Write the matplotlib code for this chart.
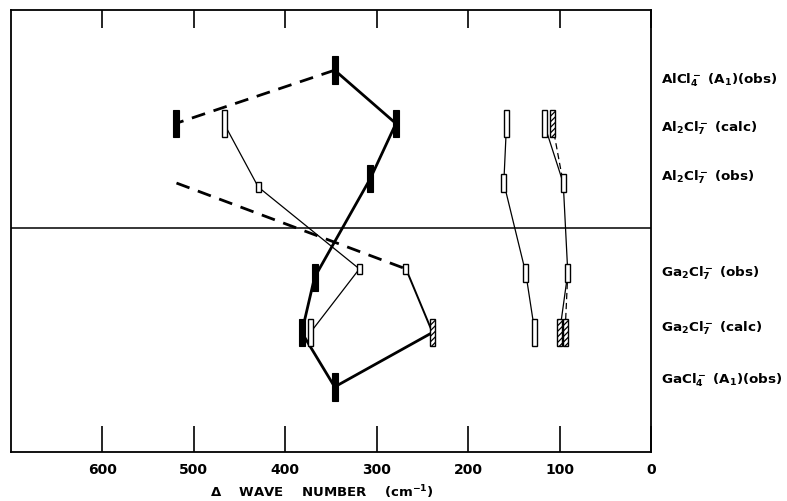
import matplotlib
matplotlib.use('Agg')
import matplotlib.pyplot as plt

plt.rcParams['font.family'] = ['DejaVu Sans']
plt.rcParams['mathtext.default'] = 'bf'
plt.rcParams['hatch.linewidth'] = 0.9

# ---- data ----
level_labels = [r"AlCl$_4^-$ (A$_1$)(obs)", r"Al$_2$Cl$_7^-$ (calc)", r"Al$_2$Cl$_7^-$ (obs)",
                r"Ga$_2$Cl$_7^-$ (obs)", r"Ga$_2$Cl$_7^-$ (calc)", r"GaCl$_4^-$ (A$_1$)(obs)"]
level_base = [5.33, 3.37, 1.33, -1.33, -3.37, -5.37]
level_dir = [1, 1, 1, -1, -1, -1]
label_y = [5.52, 3.74, 1.93, -1.63, -3.67, -5.59]

# bands: level index, wave number, relative intensity (bar height), style
bar_level = [0,
             1, 1, 1, 1, 1, 1,
             2, 2, 2, 2,
             3, 3, 3, 3, 3,
             4, 4, 4, 4, 4, 4,
             5]
bar_wn = [346,
          520, 467, 279, 158, 117, 108,
          429.5, 307, 161, 96,
          368, 319, 268, 137, 91,
          382, 372.5, 239, 127, 100, 94,
          346]
bar_int = [1.03,
           1, 1, 1, 1, 1, 1,
           0.37, 1, 0.67, 0.67,
           1, 0.37, 0.37, 0.67, 0.67,
           1, 1, 1, 1, 1, 1,
           1.03]
bar_style = ['filled',
             'filled', 'open', 'filled', 'open', 'open', 'hatched',
             'open', 'filled', 'open', 'open',
             'filled', 'open', 'open', 'open', 'open',
             'filled', 'open', 'hatched', 'open', 'hatched', 'hatched',
             'filled']

# correlation lines: (levels, wave numbers)
thick_solid = [([0, 1, 2, 3, 4, 5, 4], [346, 279, 307, 368, 382, 346, 239])]
thick_dashed = [([0, 1], [346, 520]), ([2, 3], [519, 268])]
medium_solid = [([3, 4], [268, 239])]
thin_solid = [([1, 2, 3, 4], [467, 429.5, 319, 372.5]),
              ([1, 2, 3, 4], [158, 161, 137, 127]),
              ([1, 2, 3, 4], [117, 96, 91, 100])]
thin_dashed = [([1, 2], [108, 96]), ([3, 4], [91, 94])]

xticks = [600, 500, 400, 300, 200, 100, 0]

# ---- figure ----
W, H = 787, 502
fig = plt.figure(figsize=(W / 100, H / 100), dpi=100)
ax = fig.add_axes([11 / W, (H - 453) / H, (651 - 11) / W, (453 - 11) / H])
ax.set_xlim(700, 0)
ax.set_ylim(-224 / 27, 218 / 27)


def point_y(lv, wn):
    for l, w, i in zip(bar_level, bar_wn, bar_int):
        if l == lv and abs(w - wn) < 0.01:
            return level_base[lv] + level_dir[lv] * i / 2
    return level_base[lv] + level_dir[lv] * 0.67 / 2


def draw(lines, **kw):
    for lvs, wns in lines:
        ys = [point_y(l, w) for l, w in zip(lvs, wns)]
        ax.plot(wns, ys, color='black', zorder=2, **kw)


draw(thick_solid, lw=2.0, solid_capstyle='round')
draw(thick_dashed, lw=2.0, dashes=(5, 3.2))
draw(medium_solid, lw=1.4)
draw(thin_solid, lw=0.9)
draw(thin_dashed, lw=0.9, dashes=(5, 3))

for l, w, i, s in zip(bar_level, bar_wn, bar_int, bar_style):
    h = level_dir[l] * i
    b = level_base[l]
    if s == 'filled':
        ax.bar(w, h, bottom=b, width=6.5, color='black', edgecolor='black', lw=0.8, zorder=3)
    elif s == 'open':
        ax.bar(w, h, bottom=b, width=5.5, color='white', edgecolor='black', lw=1.0, zorder=3)
    else:
        ax.bar(w, h, bottom=b, width=5.5, color='white', edgecolor='black', lw=1.0,
               hatch='//////', zorder=3)

ax.axhline(0, color='black', lw=1.1, zorder=1)

for lab, y in zip(level_labels, label_y):
    ax.text(-11, y, lab, ha='left', va='center', fontsize=9.7, fontweight='bold')

for sp in ax.spines.values():
    sp.set_linewidth(1.3)

ax.set_yticks([])
ax.set_xticks(xticks)
ax.set_xticklabels([str(t) for t in xticks], fontweight='bold', fontsize=10)
ax.tick_params(axis='x', direction='in', length=19, width=1.2, top=True, pad=7)
for t in ax.xaxis.get_major_ticks():
    t.tick2line.set_markersize(13)

fig.text(322 / W, 1 - 492 / H, r"$\Delta$    WAVE    NUMBER    (cm$^{-1}$)",
         ha='center', va='center', fontsize=9.5, fontweight='bold')

fig.savefig('out.png', dpi=100)
